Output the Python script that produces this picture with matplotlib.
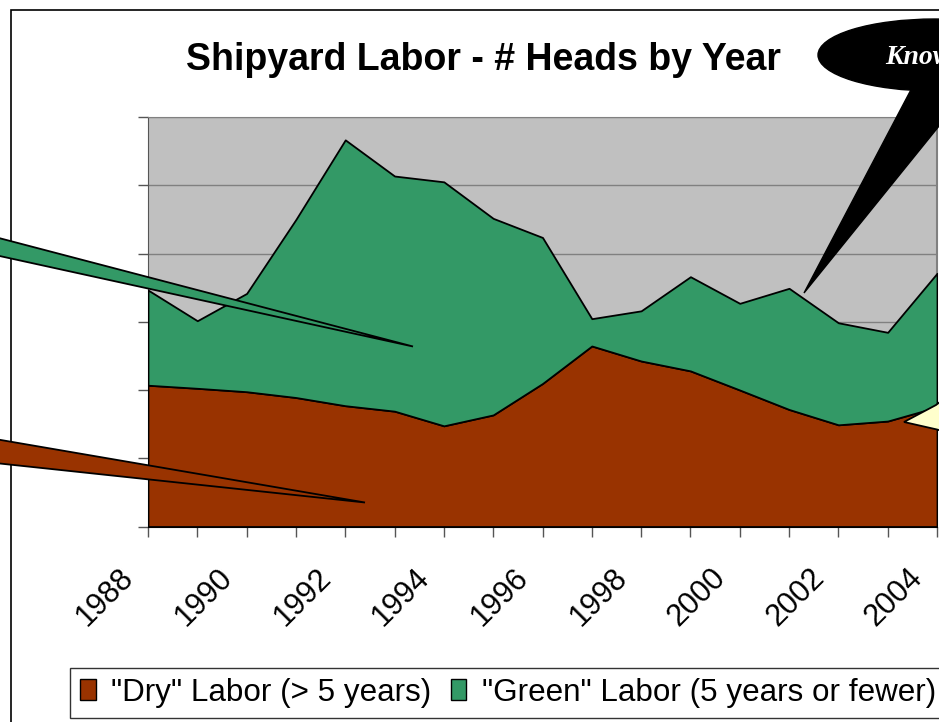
import numpy as np
import matplotlib
matplotlib.use("Agg")
import matplotlib.pyplot as plt
from matplotlib.patches import Polygon, Ellipse, Rectangle
from matplotlib.transforms import ScaledTranslation

plt.rcParams['font.family'] = ['Liberation Sans', 'DejaVu Sans']

# data (heads)
years = list(range(1988, 2005))
dry = [2070, 2025, 1975, 1890, 1770, 1690, 1475, 1635, 2095, 2645, 2425, 2280, 2000, 1715, 1490, 1545, 1750]
total = [3465, 3015, 3415, 4500, 5665, 5135, 5050, 4515, 4235, 3045, 3160, 3660, 3270, 3490, 2985, 2845, 3710]
green = [t - d for t, d in zip(total, dry)]
tick_years = years[::2]

title = "Shipyard Labor - # Heads by Year"
labels = ['"Dry" Labor (> 5 years)', '"Green" Labor (5 years or fewer)']
colors = ['#993300', '#339966']

W, H = 939, 722
fig = plt.figure(figsize=(W / 100, H / 100), dpi=100)


def px(x, y):
    # figure pixel (from top-left) -> figure fraction
    return (x / W, 1 - y / H)


# chart frame
fig.patches.append(Rectangle(px(11, 760), (W + 40) / W, 750 / H, transform=fig.transFigure,
                             facecolor='white', edgecolor='black', linewidth=1.2, zorder=-1))

ax = fig.add_axes([148 / W, (H - 526.5) / H, (937 - 148) / W, (526.5 - 117) / H])
ax.set_facecolor('#C0C0C0')

x = np.array(years)
base = np.zeros(len(x))
lower = np.array(dry)
upper = lower + np.array(green)
h1 = ax.fill_between(x, base, lower, facecolor=colors[0], edgecolor='black', linewidth=1.3, zorder=3)
h2 = ax.fill_between(x, lower, upper, facecolor=colors[1], edgecolor='black', linewidth=1.3, zorder=3)

ax.set_xlim(1988, 2004)
ax.set_ylim(0, 6000)
ax.set_yticks(np.arange(0, 6001, 1000))
ax.set_yticklabels([])
ax.yaxis.grid(True, color='#808080', linewidth=1)
ax.set_axisbelow(True)
ax.set_xticks(years, minor=True)
ax.set_xticks(tick_years)
ax.set_xticklabels([str(y) for y in tick_years], rotation=45, ha='right', va='top',
                   rotation_mode='default', fontsize=22)
ax.tick_params(axis='x', which='both', length=7, width=1, color='#555555', pad=19, direction='out')
ax.tick_params(axis='y', length=7, width=1, color='#555555', direction='out')
shift = ScaledTranslation(-8 / 100, 0, fig.dpi_scale_trans)
for lab in ax.get_xticklabels():
    lab.set_transform(lab.get_transform() + shift)
ax.spines['top'].set_color('#808080')
ax.spines['right'].set_color('#808080')
ax.spines['right'].set_linewidth(1.5)
ax.spines['left'].set_color('#555555')
ax.spines['bottom'].set_color('black')

fig.text(484 / W, 1 - 60 / H, title, ha='center', va='center', fontsize=27, fontweight='bold')

# callouts
fig.patches.append(Polygon([px(-5, 237), px(413, 346.5), px(-5, 255)], closed=True,
                           transform=fig.transFigure, facecolor=colors[1], edgecolor='black',
                           linewidth=1.3, zorder=5))
fig.patches.append(Polygon([px(-5, 439), px(365, 502.5), px(-5, 463)], closed=True,
                           transform=fig.transFigure, facecolor=colors[0], edgecolor='black',
                           linewidth=1.3, zorder=5))
fig.patches.append(Polygon([px(914, 84), px(804, 293), px(973, 84)], closed=True,
                           transform=fig.transFigure, facecolor='black', edgecolor='black',
                           linewidth=1, zorder=5))
fig.patches.append(Ellipse(px(935, 55), 234 / W, 72 / H, transform=fig.transFigure,
                           facecolor='black', edgecolor='black', zorder=5))
fig.patches.append(Polygon([px(904, 422), px(936, 405), px(945, 398), px(945, 432), px(937, 429.5)],
                           closed=True, transform=fig.transFigure, facecolor='#FFFFCC',
                           edgecolor='black', linewidth=1.3, zorder=5))
fig.text(885 / W, 1 - 58 / H, "Know", color='white', fontsize=20, fontweight='bold',
         fontstyle='italic', family=['Liberation Serif', 'DejaVu Serif'], ha='left', va='center',
         zorder=6)

leg = fig.legend([h1, h2], labels, loc='lower left', bbox_to_anchor=(70 / W, 4 / H),
                 ncol=2, fontsize=22.6, frameon=True, fancybox=False, borderaxespad=0,
                 handlelength=0.5, handleheight=0.65, handletextpad=0.5, columnspacing=0.6,
                 borderpad=0.32)
leg.get_frame().set_edgecolor('black')
leg.get_frame().set_linewidth(1)
for hnd in leg.legend_handles:
    hnd.set_edgecolor('black')
    hnd.set_linewidth(1)

fig.savefig('out.png', dpi=100)
